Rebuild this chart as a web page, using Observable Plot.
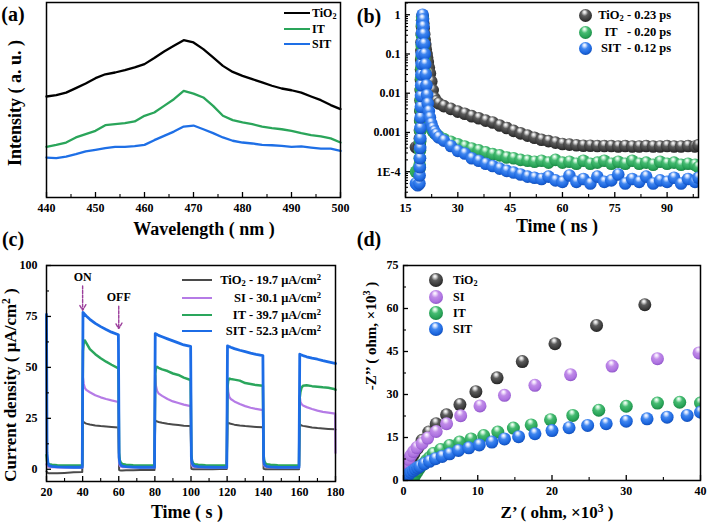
<!DOCTYPE html>
<html><head><meta charset="utf-8">
<script src="https://cdn.jsdelivr.net/npm/d3@7"></script>
<script src="https://cdn.jsdelivr.net/npm/@observablehq/plot@0.6"></script>
<style>
body{margin:0;background:#fff;}
#fig{position:relative;width:709px;height:524px;overflow:hidden;background:#fff;font-family:'Liberation Serif','Times New Roman',serif;font-weight:bold;color:#000;}
.p{position:absolute;}
.t{position:absolute;white-space:nowrap;line-height:1;}
sub{font-size:0.68em;vertical-align:-0.3em;line-height:0;}
sup{font-size:0.68em;vertical-align:0.5em;line-height:0;}
</style></head><body>
<svg width="0" height="0" style="position:absolute"><defs>
<radialGradient id="sph-k" cx="0.45" cy="0.38" r="0.62" fx="0.42" fy="0.22">
<stop offset="0" stop-color="#ffffff"/><stop offset="0.16" stop-color="#d8d8d8"/><stop offset="0.42" stop-color="#5c5c5c"/><stop offset="0.8" stop-color="#3a3a3a"/><stop offset="1" stop-color="#222"/></radialGradient>
<radialGradient id="sph-b" cx="0.45" cy="0.38" r="0.62" fx="0.42" fy="0.22">
<stop offset="0" stop-color="#ffffff"/><stop offset="0.16" stop-color="#cfe0ff"/><stop offset="0.42" stop-color="#3f86f0"/><stop offset="0.8" stop-color="#1c66de"/><stop offset="1" stop-color="#124fb8"/></radialGradient>
<radialGradient id="sph-g" cx="0.45" cy="0.38" r="0.62" fx="0.42" fy="0.22">
<stop offset="0" stop-color="#ffffff"/><stop offset="0.16" stop-color="#c8f2d6"/><stop offset="0.42" stop-color="#46bb72"/><stop offset="0.8" stop-color="#28a357"/><stop offset="1" stop-color="#1a8443"/></radialGradient>
<radialGradient id="sph-p" cx="0.45" cy="0.38" r="0.62" fx="0.42" fy="0.22">
<stop offset="0" stop-color="#ffffff"/><stop offset="0.16" stop-color="#efdcfc"/><stop offset="0.42" stop-color="#c08be8"/><stop offset="0.8" stop-color="#ad72e0"/><stop offset="1" stop-color="#8f55c8"/></radialGradient>
</defs></svg>
<div id="fig"></div>
<script>
// ---------- (a) PL spectra ----------
const wavelengths = [440,442,444,446,448,450,452,454,456,458,460,462,464,466,468,470,472,474,476,478,480,482,484,486,488,490,492,494,496,498,500];
const plTiO2 = [51.8,52.5,53.8,56.1,58.5,61.2,63.2,64.1,65.3,66.7,68.4,71.5,74.9,77.8,80.7,79.5,76.1,71.8,67.5,64.4,62.4,60.7,59.0,57.3,55.9,55.0,53.8,51.8,49.9,47.4,45.3];
const plIT   = [26.0,27.0,28.2,30.8,32.5,34.2,37.1,37.6,38.1,39.0,41.9,43.6,47.0,50.4,54.7,53.3,51.3,47.0,41.9,39.7,38.5,37.6,36.4,35.6,35.0,34.2,33.0,32.0,31.3,30.3,28.2];
const plSIT  = [20.5,20.2,21.0,22.2,23.6,24.4,25.3,26.0,26.0,26.3,27.0,29.4,31.6,33.8,36.4,36.9,35.0,33.0,30.8,29.1,28.2,27.7,27.0,26.8,26.5,26.0,26.2,25.6,25.1,25.1,23.9];
const xTicksA = [440,450,460,470,480,490,500];
const xMinorA = [445,455,465,475,485,495];

// ---------- (b) TRPL decay ----------
const timeB = [18,18.5,19,19.05,19.1,19.15,19.2,19.25,19.3,19.35,19.4,19.45,19.5,19.55,19.6,19.65,19.7,19.75,19.8,19.9,20,20.1,20.2,20.35,20.5,20.65,20.8,21,21.2,21.4,21.7,22,22.4,22.8,23.3,23.8,24.5,26,28,30,32,34,36,38,40,42,44,46,48,50,52,54,56,58,60,62,64,66,68,70,72,74,76,78,80,82,84,86,88,90,92,94,96,98,99];
const trTiO2 = [4.2e-4,4.1e-4,4.3e-4,5e-4,7e-4,1.1e-3,2e-3,3.5e-3,6.5e-3,0.012,0.022,0.04,0.07,0.12,0.2,0.33,0.5,0.72,0.9,0.95,0.8,0.6,0.45,0.32,0.23,0.17,0.13,0.1,0.08,0.062,0.045,0.032,0.02,0.012,0.0075,0.0062,0.0055,0.0047,0.004,0.0034,0.003,0.0026,0.0023,0.002,0.0018,0.0015,0.0013,0.0011,0.00095,0.00083,0.00073,0.00065,0.0006,0.00055,0.00051,0.00049,0.00047,0.00046,0.00046,0.00045,0.00045,0.00045,0.00044,0.00045,0.00044,0.00044,0.00045,0.00044,0.00044,0.00045,0.00044,0.00044,0.00045,0.00044,0.00047];
const trIT = [1.0e-4,1.1e-4,1.2e-4,1.5e-4,2.2e-4,3.5e-4,6e-4,1.1e-3,2e-3,3.8e-3,7e-3,0.013,0.025,0.045,0.085,0.16,0.3,0.55,0.85,0.8,0.5,0.3,0.16,0.075,0.035,0.017,0.009,0.0055,0.0038,0.0028,0.002,0.0016,0.0013,0.0011,0.00098,0.0009,0.0008,0.00068,0.00058,0.0005,0.00044,0.00039,0.00035,0.00031,0.00028,0.00026,0.00023,0.00022,0.0002,0.00019,0.00018,0.00019,0.00017,0.0002,0.00017,0.00018,0.00016,0.00019,0.00016,0.00017,0.00019,0.00016,0.00018,0.00016,0.00019,0.00016,0.00017,0.00015,0.00018,0.00016,0.00017,0.00015,0.00016,0.00015,0.00013];
const trSIT = [5e-5,4.5e-5,5e-5,8e-5,1.3e-4,2.2e-4,4e-4,7e-4,1.3e-3,2.4e-3,4.5e-3,8.5e-3,0.016,0.03,0.056,0.1,0.19,0.35,0.62,1.0,0.75,0.5,0.32,0.18,0.1,0.055,0.03,0.016,0.009,0.0055,0.0035,0.0024,0.0017,0.0013,0.00105,0.0009,0.00075,0.00062,0.00045,0.00034,0.00029,0.00022,0.00019,0.00016,0.00014,0.00012,0.000105,9.5e-5,8.5e-5,7.5e-5,7e-5,6.5e-5,7.5e-5,6e-5,5.5e-5,8e-5,5.5e-5,6.5e-5,5e-5,7.5e-5,5.5e-5,6e-5,8.5e-5,5e-5,6.5e-5,5.5e-5,7.5e-5,5e-5,6e-5,5.5e-5,7e-5,5e-5,6.5e-5,5.5e-5,7e-5];
const xTicksB = [15,30,45,60,75,90];
const xMinorB = [22.5,37.5,52.5,67.5,82.5,97.5];
const yTicksB = [1,0.1,0.01,0.001,1e-4];
const yTickLabelsB = ["1","0.1","0.01","0.001","1E-4"];

// ---------- (c) photocurrent ----------
const timeC = [20,20.3,20.8,21.5,23,26,30,35,39.8, 40.2,40.6,41.2,42,44,47,50,53,56,59.8, 60.2,60.6,61.2,62,64,68,72,76,79.8, 80.2,80.6,81.2,82,84,87,90,93,96,99.8, 100.2,100.6,101.2,102,104,108,112,116,119.8, 120.2,120.6,121.2,122,124,127,130,133,136,139.8, 140.2,140.6,141.2,142,144,148,152,156,159.8, 160.2,160.6,161.2,162,164,167,170,173,176,179.8, 180];
const jSIT = [76,8,3,1.8,1.4,1.2,1.1,1.0,1.0, 77,76.6,76,75.2,73.6,71.6,70,68.6,67.3,66, 6,3,2,1.6,1.3,1.1,1.0,1.0,0.9, 66.6,66.4,66.1,65.7,65,64,63,62,61,60.3, 6,3,2,1.6,1.3,1.1,1.0,0.9,0.9, 60.6,60.4,60.2,59.9,59.2,58.4,57.7,57,56.4,55.8, 5,2.5,1.8,1.4,1.2,1.0,0.9,0.9,0.9, 56.5,56.3,56.1,55.8,55.2,54.5,54,53.3,52.7,52, 51.9];
const jIT = [7,4,3,2.5,2.2,2.0,1.9,1.8,1.8, 58,62,63.2,62,59,56.5,54.5,52.8,51.3,49.5, 8,4.5,3.2,2.6,2.2,2.0,1.9,1.8,1.8, 47,49.5,50.3,49.8,49,48.2,47,46.3,45,43.8, 7,4,3,2.5,2.2,2.0,1.9,1.8,1.8, 40,43.5,44.5,44.3,44,43.5,42.3,41.8,41.3,41, 7,4,3,2.5,2.2,2.0,1.9,1.8,1.8, 35,38,40,41,41.2,40.8,40.5,40.2,40,39.3, 39];
const jSI = [2.5,1.8,1.4,1.1,1.0,0.9,0.8,0.8,0.8, 45,42,40,39,37.8,36.3,35.3,34.5,33.8,33, 3,1.8,1.3,1.1,1.0,0.9,0.8,0.8,0.8, 46,41,38.5,37.3,36,34.5,33.3,32.5,31.7,31, 3,1.8,1.3,1.1,1.0,0.9,0.8,0.8,0.8, 44,38,35.5,34.5,33.3,32,31,30.2,29.6,29, 3,1.8,1.3,1.1,1.0,0.9,0.8,0.8,0.8, 36,33,32,31.3,30.5,29.6,28.8,28.2,27.8,27.3, 8];
const jTiO2 = [-1.0,-1.5,-1.8,-2.0,-2.0,-2.0,-1.8,-1.5,-1.3, 23.5,23.2,22.8,22.4,22,21.5,21.2,21,20.8,20.5, -0.3,-0.5,-0.6,-0.6,-0.5,-0.5,-0.4,-0.4,-0.3, 24,23.7,23.5,23.2,22.8,22.3,22,21.7,21.4,21.2, 0.3,0.1,0,0,0,0,0,0.1,0.1, 23,22.8,22.6,22.3,21.9,21.5,21.2,21,20.8,20.6, 0.3,0.1,0,0,0,0,0,0,0, 22,21.8,21.5,21.3,21,20.5,20.2,20,19.8,19.6, 19.5];
const xTicksC = [20,40,60,80,100,120,140,160,180];
const xMinorC = [30,50,70,90,110,130,150,170];
const yTicksC = [0,25,50,75,100];
const yMinorC = [12.5,37.5,62.5,87.5];
const arrowX = [40,60];
const arrowTop = [90,80];
const arrowTip = [78,69];
const arrowLabels = ["ON","OFF"];

// ---------- (d) Nyquist ----------
const zReTiO2 = [0.05,0.15,0.3,0.5,0.75,1.05,1.4,1.9,2.5,3.4,4.4,5.8,7.6,9.75,12.6,16,20.4,26,32.5];
const zImTiO2 = [1.2,2.2,3.3,4.6,6.0,7.6,9.3,11.3,14.0,16.9,19.8,22.9,26.5,31,35.8,41.5,47.7,54.1,61.3];
const zReSI = [0.1,0.25,0.45,0.7,1.0,1.35,1.8,2.5,3.25,4.4,5.8,7.7,10.3,13.6,17.7,22.5,28.1,34.2,39.8];
const zImSI = [3.5,4.8,6.1,7.4,8.8,10.1,11.5,12.9,14.8,17.1,19.8,22.6,26,29.7,33.2,36.9,39.9,42.5,44.5];
const zReIT = [1.2,1.4,1.6,1.9,2.2,2.6,3.1,3.5,4.0,5.0,6.2,7.55,9.1,10.8,12.7,14.8,17.2,19.8,22.8,26.3,30,34.2,37.2,40];
const zImIT = [0.3,1.2,2.2,3.3,4.5,5.7,7.0,8.0,9.4,10.8,12.2,13.4,14.5,15.7,16.9,18.3,19.4,21.2,22.7,24.5,25.9,27,27.3,27];
const zReSIT = [0.05,0.2,0.5,0.75,1.0,1.3,1.6,1.9,2.2,2.8,3.5,4.3,5.2,6.2,7.4,8.8,10.2,11.9,13.6,15.5,17.7,20,22.3,24.8,27.3,30,32.8,35.5,38.2,40];
const zImSIT = [0.4,0.8,1.7,2.3,2.9,3.4,4.0,4.5,4.9,5.8,6.7,7.6,8.4,9.3,10.5,11.4,12.4,13.4,14.5,15.3,16.3,17.4,18.4,19.2,19.8,20.7,21.5,22.1,22.7,23.8];
const xTicksD = [0,10,20,30,40];
const xMinorD = [5,15,25,35];
const yTicksD = [0,15,30,45,60,75];
const yMinorD = [7.5,22.5,37.5,52.5,67.5];

// ---------- helpers ----------
const fig = document.getElementById("fig");
const TICKFONT = 12;
const baseStyle = {fontFamily:"'Liberation Serif','Times New Roman',serif", fontWeight:"bold", fontSize:"12px", color:"#000", background:"transparent", overflow:"visible"};

function frameTicks(xMaj, xMin, yMaj, yMin, fw, fh) {
  const m = [];
  const s = {stroke:"#000"};
  if (xMaj.length) m.push(Plot.tickX(xMaj, {x:d=>d, insetTop:fh-5, strokeWidth:1.3, ...s}));
  if (xMin.length) m.push(Plot.tickX(xMin, {x:d=>d, insetTop:fh-3, strokeWidth:1.1, ...s}));
  if (yMaj.length) m.push(Plot.tickY(yMaj, {y:d=>d, insetRight:fw-5, strokeWidth:1.3, ...s}));
  if (yMin.length) m.push(Plot.tickY(yMin, {y:d=>d, insetRight:fw-3, strokeWidth:1.1, ...s}));
  return m;
}
function place(el, L) { el.classList.add("p"); el.style.left = L.left+"px"; el.style.top = L.top+"px"; fig.appendChild(el); }
function txt(html, x, y, size, anchor="middle", rotate=false) {
  const d = document.createElement("div");
  d.className = "t"; d.innerHTML = html;
  d.style.left = x+"px"; d.style.top = y+"px"; d.style.fontSize = size+"px";
  const tx = anchor==="start" ? "0" : anchor==="end" ? "-100%" : "-50%";
  d.style.transform = rotate ? "translate(-50%,-50%) rotate(-90deg)" : `translate(${tx},-50%)`;
  fig.appendChild(d);
}
function legLine(color, x1, x2, y, w) {
  const d = document.createElement("div");
  d.style.cssText = `position:absolute;left:${x1}px;top:${y-w/2}px;width:${x2-x1}px;height:${w}px;background:${color};`;
  fig.appendChild(d);
}
function legSphere(grad, cx, cy, r) {
  const ns = "http://www.w3.org/2000/svg";
  const s = document.createElementNS(ns, "svg");
  s.setAttribute("width", 2*r+2); s.setAttribute("height", 2*r+2);
  s.style.cssText = `position:absolute;left:${cx-r-1}px;top:${cy-r-1}px;`;
  const c = document.createElementNS(ns, "circle");
  c.setAttribute("cx", r+1); c.setAttribute("cy", r+1); c.setAttribute("r", r); c.setAttribute("fill", `url(#${grad})`);
  s.appendChild(c); fig.appendChild(s);
}

// ---------- panel (a) ----------
const A = {left:0, top:0, width:350, height:240, mt:2, mr:10, mb:43, ml:46};
const fwA = A.width-A.ml-A.mr, fhA = A.height-A.mt-A.mb;
place(Plot.plot({
  width:A.width, height:A.height, marginTop:A.mt, marginRight:A.mr, marginBottom:A.mb, marginLeft:A.ml,
  style:baseStyle,
  x:{domain:[440,500]}, y:{domain:[0,100], axis:null},
  marks:[
    Plot.line(wavelengths, {x:d=>d, y:(d,i)=>plTiO2[i], stroke:"#000", strokeWidth:2.3}),
    Plot.line(wavelengths, {x:d=>d, y:(d,i)=>plIT[i], stroke:"#2aa55a", strokeWidth:2.3}),
    Plot.line(wavelengths, {x:d=>d, y:(d,i)=>plSIT[i], stroke:"#1e6fe6", strokeWidth:2.3}),
    ...frameTicks(xTicksA, xMinorA, [], [], fwA, fhA),
    Plot.axisX(xTicksA, {tickSize:0, tickPadding:6, fontSize:TICKFONT, label:null}),
    Plot.frame({stroke:"#000", strokeWidth:1.5})
  ]
}), A);

// ---------- panel (b) ----------
const B = {left:355, top:0, width:354, height:240, mt:2, mr:11, mb:43, ml:50};
const fwB = B.width-B.ml-B.mr, fhB = B.height-B.mt-B.mb;
const yMinorB = d3.range(-5,1).flatMap(k => d3.range(2,10).map(m => m*10**k)).filter(v => v>2.2e-5 && v<2.05);
place(Plot.plot({
  width:B.width, height:B.height, marginTop:B.mt, marginRight:B.mr, marginBottom:B.mb, marginLeft:B.ml,
  style:baseStyle,
  x:{domain:[15,99]}, y:{type:"log", domain:[2.2e-5,2.05]},
  marks:[
    Plot.dot(timeB, {x:d=>d, y:(d,i)=>trTiO2[i], r:6.3, fill:"url(#sph-k)", stroke:"none", clip:true}),
    Plot.dot(timeB, {x:d=>d, y:(d,i)=>trIT[i], r:6.3, fill:"url(#sph-g)", stroke:"none", clip:true}),
    Plot.dot(timeB, {x:d=>d, y:(d,i)=>trSIT[i], r:6.3, fill:"url(#sph-b)", stroke:"none", clip:true}),
    ...frameTicks(xTicksB, xMinorB, yTicksB, yMinorB, fwB, fhB),
    Plot.axisX(xTicksB, {tickSize:0, tickPadding:6, fontSize:TICKFONT, label:null}),
    Plot.axisY(yTicksB, {tickSize:0, tickPadding:5, fontSize:TICKFONT, label:null, tickFormat:d => yTickLabelsB[yTicksB.indexOf(d)]}),
    Plot.frame({stroke:"#000", strokeWidth:1.5})
  ]
}), B);

// ---------- panel (c) ----------
const C = {left:0, top:255, width:350, height:269, mt:10, mr:15, mb:43, ml:46};
const fwC = C.width-C.ml-C.mr, fhC = C.height-C.mt-C.mb;
place(Plot.plot({
  width:C.width, height:C.height, marginTop:C.mt, marginRight:C.mr, marginBottom:C.mb, marginLeft:C.ml,
  style:baseStyle,
  x:{domain:[20,180]}, y:{domain:[-6,100]},
  marks:[
    Plot.line(timeC, {x:d=>d, y:(d,i)=>jTiO2[i], stroke:"#4a4a4a", strokeWidth:2}),
    Plot.line(timeC, {x:d=>d, y:(d,i)=>jSI[i], stroke:"#b57be6", strokeWidth:2.2}),
    Plot.line(timeC, {x:d=>d, y:(d,i)=>jIT[i], stroke:"#2aa65c", strokeWidth:2.5}),
    Plot.line(timeC, {x:d=>d, y:(d,i)=>jSIT[i], stroke:"#1c6ce6", strokeWidth:2.8}),
    Plot.arrow(arrowX, {x1:d=>d, x2:d=>d, y1:(d,i)=>arrowTop[i], y2:(d,i)=>arrowTip[i], stroke:"#9b3d9b", strokeWidth:1.4, headLength:7, strokeDasharray:"3,1.5"}),
    Plot.text(arrowX, {x:d=>d, y:(d,i)=>arrowTop[i], text:(d,i)=>arrowLabels[i], dy:-9, fontSize:12, fill:"#000"}),
    ...frameTicks(xTicksC, xMinorC, yTicksC, yMinorC, fwC, fhC),
    Plot.axisX(xTicksC, {tickSize:0, tickPadding:6, fontSize:TICKFONT, label:null}),
    Plot.axisY(yTicksC, {tickSize:0, tickPadding:9, fontSize:TICKFONT, label:null}),
    Plot.frame({stroke:"#000", strokeWidth:1.5})
  ]
}), C);

// ---------- panel (d) ----------
const D = {left:355, top:255, width:354, height:269, mt:10, mr:9, mb:44, ml:48};
const fwD = D.width-D.ml-D.mr, fhD = D.height-D.mt-D.mb;
place(Plot.plot({
  width:D.width, height:D.height, marginTop:D.mt, marginRight:D.mr, marginBottom:D.mb, marginLeft:D.ml,
  style:baseStyle,
  x:{domain:[0,40]}, y:{domain:[0,75]},
  marks:[
    Plot.dot(zReTiO2, {x:d=>d, y:(d,i)=>zImTiO2[i], r:6.5, fill:"url(#sph-k)", stroke:"none", clip:true}),
    Plot.dot(zReSI, {x:d=>d, y:(d,i)=>zImSI[i], r:6.5, fill:"url(#sph-p)", stroke:"none", clip:true}),
    Plot.dot(zReIT, {x:d=>d, y:(d,i)=>zImIT[i], r:6.5, fill:"url(#sph-g)", stroke:"none", clip:true}),
    Plot.dot(zReSIT, {x:d=>d, y:(d,i)=>zImSIT[i], r:6.5, fill:"url(#sph-b)", stroke:"none", clip:true}),
    ...frameTicks(xTicksD, xMinorD, yTicksD, yMinorD, fwD, fhD),
    Plot.axisX(xTicksD, {tickSize:0, tickPadding:6, fontSize:TICKFONT, label:null}),
    Plot.axisY(yTicksD, {tickSize:0, tickPadding:5, fontSize:TICKFONT, label:null}),
    Plot.frame({stroke:"#000", strokeWidth:1.5})
  ]
}), D);

// ---------- titles & panel labels ----------
txt("(a)", 13, 14, 20);
txt("(b)", 369, 16, 20);
txt("(c)", 13, 239, 20);
txt("(d)", 369, 239, 20);
txt("Wavelength ( nm )", 204, 229, 18);
txt("Intensity ( a. u. )", 15, 103, 18, "middle", true);
txt("Time ( ns )", 557, 226, 18);
txt("Current density ( μA/cm<sup>2</sup> )", 10, 385, 17, "middle", true);
txt("Time ( s )", 187, 512, 18);
txt("-Z’’ ( ohm, ×10<sup>3</sup> )", 371, 336, 15, "middle", true);
txt("Z’ ( ohm, ×10<sup>3</sup> )", 557, 512, 17);

// ---------- legends ----------
const legA = [["TiO<sub>2</sub>","#000",13],["IT","#2aa55a",29],["SIT","#1e6fe6",44]];
legA.forEach(([lab,col,y]) => { legLine(col, 284, 310, y, 2.2); txt(lab, 312, y, 12, "start"); });

const legB = [["TiO<sub>2</sub>","- 0.23 ps","sph-k",15],["IT","- 0.20 ps","sph-g",32],["SIT","- 0.12 ps","sph-b",48]];
legB.forEach(([lab,val,g,y]) => { legSphere(g, 585, y, 6.5); txt(lab, 611, y, 12.5); txt(val, 627, y, 12.5, "start"); });

const legC = [["TiO<sub>2</sub> - 19.7 μA/cm<sup>2</sup>","#4a4a4a",280],["SI - 30.1 μA/cm<sup>2</sup>","#b57be6",298],["IT - 39.7 μA/cm<sup>2</sup>","#2aa65c",315],["SIT - 52.3 μA/cm<sup>2</sup>","#1c6ce6",331]];
legC.forEach(([lab,col,y]) => { legLine(col, 182, 212, y, 2.5); txt(lab, 321, y, 12.5, "end"); });

const legD = [["TiO<sub>2</sub>","sph-k",280],["SI","sph-p",297],["IT","sph-g",313],["SIT","sph-b",329]];
legD.forEach(([lab,g,y]) => { legSphere(g, 436, y, 7); txt(lab, 453, y, 12, "start"); });
</script>
</body></html>
